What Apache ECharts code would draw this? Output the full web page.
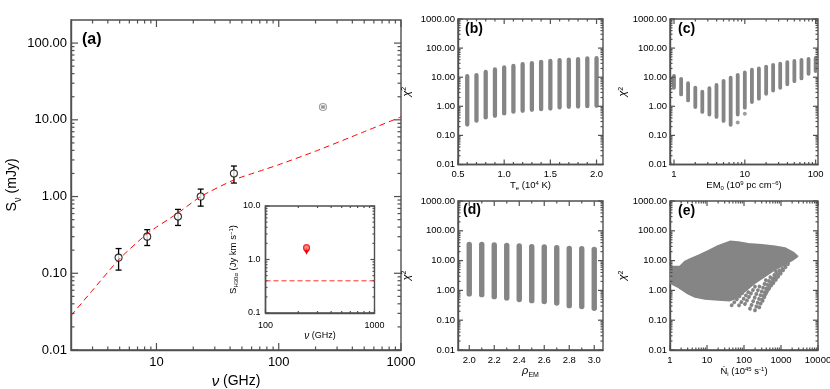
<!DOCTYPE html>
<html>
<head>
<meta charset="utf-8">
<title>Spectrum and chi-square panels</title>
<script src="https://cdn.jsdelivr.net/npm/echarts@6.0.0/dist/echarts.min.js"></script>
<style>
  html, body { margin: 0; padding: 0; background: #fff; }
  #main { width: 830px; height: 389px; }
</style>
</head>
<body>
<div id="main"></div>
<script>
var FONT = '"Liberation Sans", Arial, Helvetica, sans-serif';
var GRAY = '#858585';
var INK = '#505050';

// (a) measured flux densities (mJy) with errors
var nuObs = [4.9, 8.4, 15, 23, 43];
var sObs = [0.16, 0.30, 0.55, 1.0, 2.0];
var sObsLo = [0.11, 0.23, 0.42, 0.75, 1.5];
var sObsHi = [0.21, 0.37, 0.68, 1.25, 2.5];
var nuMm = [230];
var sMm = [14.7];
var sMmLo = [14.3];
var sMmHi = [15.1];
// (a) model curve
var nuModel = [2, 3, 5, 8.4, 10, 15, 23, 43, 70, 100, 200, 500, 1000];
var sModel = [0.028, 0.06, 0.155, 0.33, 0.40, 0.61, 1.0, 1.65, 2.15, 2.6, 3.9, 7.0, 10.9];

// inset: H30a line flux
var nuLine = [238];
var sLine = [1.66];
var sLineLim = [1.25];
var nuLineModel = [100, 1000];
var sLineModel = [0.4, 0.4];

// (b) chi2 range per Te
var teVals = [0.6, 0.7, 0.8, 0.9, 1.0, 1.1, 1.2, 1.3, 1.4, 1.5, 1.6, 1.7, 1.8, 1.9, 2.0];
var teLo = [0.20, 0.27, 0.35, 0.40, 0.48, 0.55, 0.59, 0.64, 0.67, 0.71, 0.77, 0.81, 0.83, 0.85, 0.88];
var teHi = [12.9, 14, 18, 22, 25.5, 29, 33, 36, 40, 43, 46, 48, 49, 52, 53];

// (c) chi2 range per EM0
var emVals = [1, 1.26, 1.58, 2, 2.51, 3.16, 3.98, 5.01, 6.31, 7.94, 10, 12.6, 15.8, 20, 25.1, 31.6, 39.8, 50.1, 63.1, 79.4, 100];
var emLo = [3.7, 2.2, 1.37, 0.81, 0.55, 0.45, 0.37, 0.27, 0.20, 0.45, 0.77, 1.2, 1.57, 2.3, 3.0, 3.7, 4.9, 6.3, 7.8, 11.3, 14];
var emHi = [12.9, 10.2, 7.2, 5.1, 3.7, 4.9, 6.3, 8.7, 11.3, 14, 17, 21, 23.5, 27, 31, 34, 38, 42, 46, 49, 53];
var emDotX = [7.94, 10];
var emDotY = [0.28, 0.56];

// (d) chi2 range per rho_EM
var rhoVals = [2.0, 2.1, 2.2, 2.3, 2.4, 2.5, 2.6, 2.7, 2.8, 2.9, 3.0];
var rhoLo = [0.62, 0.585, 0.50, 0.45, 0.40, 0.368, 0.341, 0.307, 0.25, 0.232, 0.204];
var rhoHi = [43.2, 43.2, 41, 40, 38, 36.1, 35.2, 33.4, 31.7, 30.9, 29.4];

// (e) chi2 cloud vs Ni: outline plus lower streaks
var niTopX = [1, 1.86, 2.54, 3.47, 5.83, 10.9, 20.2, 41.8, 70.3, 131, 300, 689, 1283, 2154, 2820];
var niTopY = [6.4, 6.4, 9.45, 11.3, 15.0, 21.5, 31.7, 44.3, 42.1, 37.0, 34.2, 30.1, 26.5, 18.9, 13.9];
var niBotX = [2154, 1283, 689, 370, 198, 106, 63.4, 41.8, 20.2, 8.83, 4.74, 2.82, 1.68, 1];
var niBotY = [10.7, 7.3, 4.96, 2.97, 1.77, 0.93, 0.556, 0.452, 0.476, 0.514, 0.60, 0.82, 1.27, 1.77];
var stX1 = [46.4, 73.3, 106, 145, 198, 260, 320, 370, 474, 621];
var stY1 = [0.315, 0.315, 0.35, 0.244, 0.214, 0.27, 0.452, 0.72, 1.14, 1.77];
var stX2 = [90.2, 145, 207, 288, 393, 537, 733, 1000, 1337, 1750];
var stY2 = [0.82, 1.06, 1.48, 1.77, 2.29, 3.20, 4.36, 5.94, 7.69, 9.45];

// tick values for the linear axes
var teTicks = [0.5, 1.0, 1.5, 2.0];
var teMinor = [0.6, 0.7, 0.8, 0.9, 1.1, 1.2, 1.3, 1.4, 1.6, 1.7, 1.8, 1.9];
var rhoTicks = [2.0, 2.2, 2.4, 2.6, 2.8, 3.0];
var rhoMinor = [2.1, 2.3, 2.5, 2.7, 2.9];

function decades(min, max) {
  var out = [];
  for (var e = Math.ceil(Math.log10(min) - 1e-9); e <= Math.floor(Math.log10(max) + 1e-9); e++) {
    out.push(+Math.pow(10, e).toPrecision(6));
  }
  return out;
}
function logMinor(min, max) {
  var out = [];
  for (var e = Math.floor(Math.log10(min)); e <= Math.ceil(Math.log10(max)); e++) {
    for (var k = 2; k <= 9; k++) {
      var v = +(k * Math.pow(10, e)).toPrecision(6);
      if (v > min && v < max) out.push(v);
    }
  }
  return out;
}
function decade(digits) {
  return function (v) {
    var e = Math.log10(v);
    if (Math.abs(e - Math.round(e)) > 1e-6) return '';
    return v.toFixed(digits);
  };
}
function fixed(d) { return function (v) { return (+v).toFixed(d); }; }

function rich(size) {
  var sub = Math.round(size * 0.68);
  function st(o) { return Object.assign({fontFamily: FONT, color: '#000', verticalAlign: 'top'}, o); }
  return {
    r: st({fontSize: size, lineHeight: size + 2}),
    i: st({fontSize: size + 1, lineHeight: size + 2, fontStyle: 'italic'}),
    s: st({fontSize: sub, lineHeight: sub, padding: [Math.round(size * 0.55), 0, 0, 0]}),
    p: st({fontSize: sub, lineHeight: sub})
  };
}

var xAxes = [], yAxes = [];
function addAxis(list, dim, gi, o) {
  var isX = dim === 'x';
  var axis = {
    gridIndex: gi, type: o.type, min: o.min, max: o.max, position: isX ? 'bottom' : 'left',
    splitLine: {show: false},
    axisLine: {show: true, onZero: false, lineStyle: {color: INK, width: 1.4}},
    axisTick: {show: false},
    minorTick: {show: false},
    axisLabel: {show: true, fontSize: o.fontSize, fontFamily: FONT, color: '#000', margin: o.margin, formatter: o.formatter},
    name: o.name, nameLocation: 'middle', nameGap: o.nameGap, nameRotate: isX ? 0 : 90,
    nameTextStyle: {rich: o.rich, fontFamily: FONT, color: '#000'}
  };
  if (o.type === 'log') axis.logBase = 10;
  if (o.labelVals) axis.axisLabel.customValues = o.labelVals;
  list.push(axis);
  return list.length - 1;
}

var grids = [
  {left: 71, top: 20, width: 330, height: 330},
  {left: 265.5, top: 206, width: 109, height: 107, backgroundColor: '#fff'},
  {left: 458, top: 19, width: 145, height: 145.5},
  {left: 670, top: 19, width: 148, height: 145.5},
  {left: 458, top: 201, width: 145, height: 149},
  {left: 670, top: 201, width: 148, height: 149}
];
grids.forEach(function (g) {
  g.show = true;
  g.borderColor = INK;
  g.borderWidth = 1.4;
  g.containLabel = false;
  g.outerBoundsMode = 'none';
  if (!g.backgroundColor) g.backgroundColor = 'transparent';
});

var chiY = function (gi, gap) {
  return addAxis(yAxes, 'y', gi, {type: 'log', min: 0.01, max: 1000, fontSize: 9.5, margin: 3,
    formatter: decade(2), name: '{i|χ}{p|2}', nameGap: gap, rich: rich(10)});
};

var aX = addAxis(xAxes, 'x', 0, {type: 'log', min: 2, max: 1000, fontSize: 13, margin: 6,
  formatter: decade(0), name: '{i|ν}{r| (GHz)}', nameGap: 19, rich: rich(14)});
var aY = addAxis(yAxes, 'y', 0, {type: 'log', min: 0.01, max: 200, fontSize: 13, margin: 4,
  formatter: decade(2), name: '{r|S}{s|ν}{r| (mJy)}', nameGap: 50, rich: rich(14)});
var iX = addAxis(xAxes, 'x', 1, {type: 'log', min: 100, max: 1000, fontSize: 9, margin: 8,
  formatter: decade(0), name: '{i|ν}{r| (GHz)}', nameGap: 16, rich: rich(9)});
var iY = addAxis(yAxes, 'y', 1, {type: 'log', min: 0.1, max: 10, fontSize: 9, margin: 5,
  formatter: decade(1), name: '{r|S}{s|H30α}{r| (Jy km s}{p|−1}{r|)}', nameGap: 22, rich: rich(9.5)});
var bX = addAxis(xAxes, 'x', 2, {type: 'value', min: 0.5, max: 2.07, fontSize: 9.5, margin: 5,
  labelVals: teTicks, formatter: fixed(1), name: '{r|T}{s|e}{r| (10}{p|4}{r| K)}', nameGap: 14, rich: rich(9.5)});
var bY = chiY(2, 45);
var cX = addAxis(xAxes, 'x', 3, {type: 'log', min: 0.878, max: 108, fontSize: 9.5, margin: 5,
  formatter: decade(0), name: '{r|EM}{s|0}{r| (10}{p|9}{r| pc cm}{p|−6}{r|)}', nameGap: 14, rich: rich(9.5)});
var cY = chiY(3, 39);
var dX = addAxis(xAxes, 'x', 4, {type: 'value', min: 1.91, max: 3.07, fontSize: 9.5, margin: 5,
  labelVals: rhoTicks, formatter: fixed(1), name: '{i|ρ}{s|EM}', nameGap: 13, rich: rich(10)});
var dY = chiY(4, 45);
var eX = addAxis(xAxes, 'x', 5, {type: 'log', min: 1, max: 10000, fontSize: 9.5, margin: 5,
  formatter: decade(0), name: '{r|Ṅ}{s|i}{r| (10}{p|45}{r| s}{p|-1}{r|)}', nameGap: 14, rich: rich(9.5)});
var eY = chiY(5, 39);

function zip() {
  var cols = Array.prototype.slice.call(arguments);
  return cols[0].map(function (_, i) { return cols.map(function (c) { return c[i]; }); });
}

// inward tick marks on all four sides of a panel, placed through the panel's axes
function tickMarks(xi, yi, xr, yr, xMaj, xMin, yMaj, yMin, big, small) {
  var data = [];
  xMaj.forEach(function (v) { data.push([v, yr[0], 0, big]); });
  xMin.forEach(function (v) { data.push([v, yr[0], 0, small]); });
  yMaj.forEach(function (v) { data.push([xr[0], v, 1, big]); });
  yMin.forEach(function (v) { data.push([xr[0], v, 1, small]); });
  return {
    type: 'custom', xAxisIndex: xi, yAxisIndex: yi, data: data, silent: true, z: 6,
    renderItem: function (params, api) {
      var L = api.value(3);
      var st = {stroke: INK, lineWidth: 1.2};
      if (api.value(2) === 0) {
        var b = api.coord([api.value(0), yr[0]]);
        var t = api.coord([api.value(0), yr[1]]);
        return {type: 'group', children: [
          {type: 'line', shape: {x1: b[0], y1: b[1], x2: b[0], y2: b[1] - L}, style: st},
          {type: 'line', shape: {x1: t[0], y1: t[1], x2: t[0], y2: t[1] + L}, style: st}
        ]};
      }
      var l = api.coord([xr[0], api.value(1)]);
      var r = api.coord([xr[1], api.value(1)]);
      return {type: 'group', children: [
        {type: 'line', shape: {x1: l[0], y1: l[1], x2: l[0] + L, y2: l[1]}, style: st},
        {type: 'line', shape: {x1: r[0], y1: r[1], x2: r[0] - L, y2: r[1]}, style: st}
      ]};
    }
  };
}
function logTicks(min, max) { return [decades(min, max), logMinor(min, max)]; }

function bandRender(w) {
  return function (params, api) {
    var t = api.coord([api.value(0), api.value(2)]);
    var b = api.coord([api.value(0), api.value(1)]);
    return {type: 'rect', shape: {x: t[0] - w / 2, y: t[1], width: w, height: b[1] - t[1], r: w / 2}, style: {fill: GRAY}};
  };
}
function bands(xi, yi, xs, lo, hi, w) {
  return {type: 'custom', xAxisIndex: xi, yAxisIndex: yi, data: zip(xs, lo, hi), renderItem: bandRender(w), silent: true};
}
function errRender(color, c) {
  return function (params, api) {
    var x = api.value(0);
    var lo = api.coord([x, api.value(1)]);
    var hi = api.coord([x, api.value(2)]);
    var st = {stroke: color, lineWidth: 1.3};
    return {type: 'group', children: [
      {type: 'line', shape: {x1: lo[0], y1: lo[1], x2: hi[0], y2: hi[1]}, style: st},
      {type: 'line', shape: {x1: lo[0] - c, y1: lo[1], x2: lo[0] + c, y2: lo[1]}, style: st},
      {type: 'line', shape: {x1: hi[0] - c, y1: hi[1], x2: hi[0] + c, y2: hi[1]}, style: st}
    ]};
  };
}

var chiT = logTicks(0.01, 1000);
var aXT = logTicks(2, 1000), aYT = logTicks(0.01, 200);
var iXT = logTicks(100, 1000), iYT = logTicks(0.1, 10);
var cXT = logTicks(0.878, 108), eXT = logTicks(1, 10000);

var series = [
  tickMarks(aX, aY, [2, 1000], [0.01, 200], aXT[0], aXT[1], aYT[0], aYT[1], 7, 3.5),
  tickMarks(iX, iY, [100, 1000], [0.1, 10], iXT[0], iXT[1], iYT[0], iYT[1], 4, 2),
  tickMarks(bX, bY, [0.5, 2.07], [0.01, 1000], teTicks, teMinor, chiT[0], chiT[1], 5, 2.5),
  tickMarks(cX, cY, [0.878, 108], [0.01, 1000], cXT[0], cXT[1], chiT[0], chiT[1], 5, 2.5),
  tickMarks(dX, dY, [1.91, 3.07], [0.01, 1000], rhoTicks, rhoMinor, chiT[0], chiT[1], 5, 2.5),
  tickMarks(eX, eY, [1, 10000], [0.01, 1000], eXT[0], eXT[1], chiT[0], chiT[1], 5, 2.5),

  {type: 'line', xAxisIndex: aX, yAxisIndex: aY, data: zip(nuModel, sModel), showSymbol: false, smooth: 0.2,
    lineStyle: {color: '#f00', width: 1, type: [6, 4]}},
  {type: 'custom', xAxisIndex: aX, yAxisIndex: aY, data: zip(nuObs, sObsLo, sObsHi), renderItem: errRender('#000', 3)},
  {type: 'scatter', xAxisIndex: aX, yAxisIndex: aY, data: zip(nuObs, sObs), symbol: 'circle', symbolSize: 7,
    itemStyle: {color: '#fff', borderColor: '#000', borderWidth: 1.1}},
  {type: 'scatter', xAxisIndex: aX, yAxisIndex: aY, data: zip(nuMm, sMm), symbol: 'circle', symbolSize: 7,
    itemStyle: {color: '#fff', borderColor: '#888', borderWidth: 1.2}},
  {type: 'custom', xAxisIndex: aX, yAxisIndex: aY, data: zip(nuMm, sMmLo, sMmHi), renderItem: errRender('#888', 2), z: 3},

  {type: 'line', xAxisIndex: iX, yAxisIndex: iY, data: zip(nuLineModel, sLineModel), showSymbol: false,
    lineStyle: {color: '#f33', width: 1, type: [5, 3]}},
  {type: 'lines', coordinateSystem: 'cartesian2d', xAxisIndex: iX, yAxisIndex: iY,
    data: nuLine.map(function (x, i) { return {coords: [[x, sLine[i]], [x, sLineLim[i]]]}; }),
    symbol: ['none', 'arrow'], symbolSize: 5, lineStyle: {color: '#f00', width: 1.2, opacity: 1}},
  {type: 'scatter', xAxisIndex: iX, yAxisIndex: iY, data: zip(nuLine, sLine), symbol: 'circle', symbolSize: 6,
    itemStyle: {color: '#f66', borderColor: '#e00', borderWidth: 1.2}},

  bands(bX, bY, teVals, teLo, teHi, 4.3),
  bands(cX, cY, emVals, emLo, emHi, 3.8),
  {type: 'scatter', xAxisIndex: cX, yAxisIndex: cY, data: zip(emDotX, emDotY), symbolSize: 4, itemStyle: {color: GRAY}},
  bands(dX, dY, rhoVals, rhoLo, rhoHi, 5.4),

  {type: 'custom', xAxisIndex: eX, yAxisIndex: eY, data: [[niTopX[0], niTopY[0]]],
    renderItem: function (params, api) {
      var pts = [];
      for (var i = 0; i < niTopX.length; i++) pts.push(api.coord([niTopX[i], niTopY[i]]));
      for (var j = 0; j < niBotX.length; j++) pts.push(api.coord([niBotX[j], niBotY[j]]));
      return {type: 'polygon', shape: {points: pts}, style: {fill: GRAY, stroke: GRAY, lineWidth: 1.5, lineJoin: 'round'}};
    }},
  {type: 'custom', xAxisIndex: eX, yAxisIndex: eY, data: zip(stX1, stY1, stX2, stY2),
    renderItem: function (params, api) {
      var p1 = api.coord([api.value(0), api.value(1)]);
      var p2 = api.coord([api.value(2), api.value(3)]);
      return {type: 'line', shape: {x1: p1[0], y1: p1[1], x2: p2[0], y2: p2[1]},
        style: {stroke: GRAY, lineWidth: 3.8, lineCap: 'round', lineDash: [0.1, 3.9]}};
    }}
];

function panelLabel(text, x, y, size) {
  return {type: 'text', x: x, y: y, z: 10,
    style: {text: text, font: 'bold ' + size + 'px ' + FONT, fill: '#000', align: 'left', verticalAlign: 'middle'}};
}

var chart = echarts.init(document.getElementById('main'), null, {renderer: 'canvas'});
chart.setOption({
  animation: false,
  backgroundColor: '#fff',
  textStyle: {fontFamily: FONT},
  grid: grids,
  xAxis: xAxes,
  yAxis: yAxes,
  series: series,
  graphic: [
    panelLabel('(a)', 82, 40, 16),
    panelLabel('(b)', 465, 29, 14),
    panelLabel('(c)', 678, 29, 14),
    panelLabel('(d)', 463, 210, 14),
    panelLabel('(e)', 678, 211, 14)
  ]
});
</script>
</body>
</html>
